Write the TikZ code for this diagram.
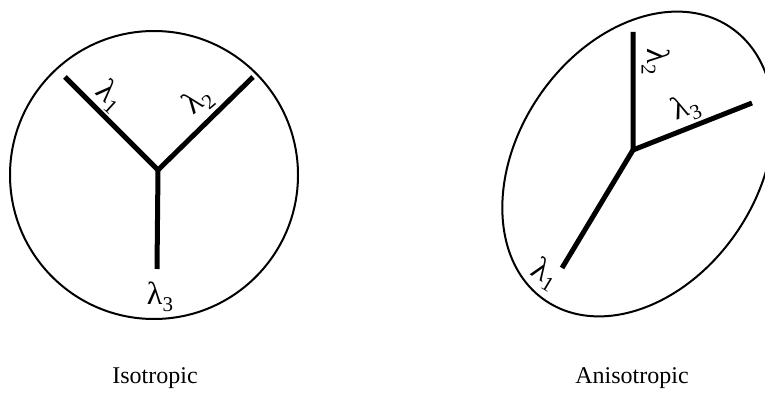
\documentclass[tikz,border=0pt]{standalone}
\usepackage{fontspec}
\setmainfont{Liberation Serif}
\usetikzlibrary{shapes.geometric}
\tikzset{
  outline/.style={draw, line width=2pt, inner sep=0pt},
  arm/.style={line width=5pt},
  lab/.style={font=\fontsize{32}{32}\selectfont, inner sep=0pt},
  caption/.style={font=\fontsize{24}{28}\selectfont, inner sep=0pt},
}
\newcommand{\lam}[1]{λ\raisebox{-0.2em}{\fontsize{21}{21}\selectfont #1}}
\begin{document}
\begin{tikzpicture}[x=1pt,y=-1pt]
\useasboundingbox (0,0) rectangle (765,406);
% Isotropic
\node[outline, circle, minimum size=288pt] (iso) at (154,175) {};
\coordinate (ic) at (158,170);
\coordinate (i1) at (65,77);
\coordinate (i2) at (253,77);
\coordinate (i3) at (157,269);
\draw[arm] (i1) -- (ic) -- (i2);
\draw[arm] (ic) -- (i3);
\node[lab, rotate=-42] (il1) at (110,96) {\lam{1}};
\node[lab, rotate=40] (il2) at (198,101) {\lam{2}};
\node[lab] (il3) at (160,297) {\lam{3}};
\node[caption] (capi) at (155,378) {Isotropic};
% Anisotropic
\node[outline, ellipse, minimum width=330pt, minimum height=240pt, rotate=56] (an) at (638,164) {};
\coordinate (ac) at (633,150);
\coordinate (a1) at (562,268);
\coordinate (a2) at (633,32);
\coordinate (a3) at (752,103);
\draw[arm] (a2) -- (ac) -- (a3);
\draw[arm] (ac) -- (a1);
\node[lab, rotate=-31] (al1) at (545,274) {\lam{1}};
\node[lab, rotate=-90] (al2) at (656,62) {\lam{2}};
\node[lab, rotate=22] (al3) at (686,108) {\lam{3}};
\node[caption] (capa) at (632,378) {Anisotropic};
\end{tikzpicture}
\end{document}
